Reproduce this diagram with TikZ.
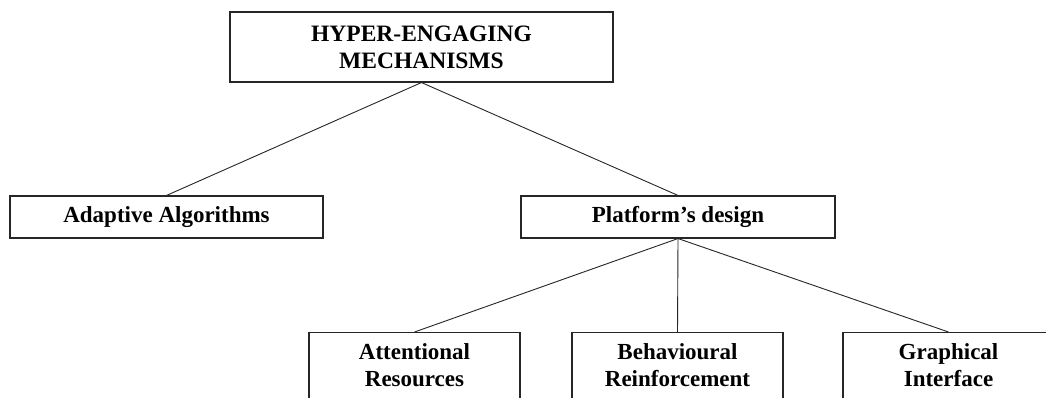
\documentclass[tikz,border=0pt]{standalone}
\usepackage{fontspec}
\setmainfont{Liberation Serif}
\begin{document}
\begin{tikzpicture}[x=1pt,y=-1pt,
  box/.style={draw=black!85, line width=1.1pt, inner sep=0pt, align=center,
    font=\bfseries\fontsize{23}{27}\selectfont},
  lowbox/.style={box, anchor=north, minimum width=211pt, inner xsep=0pt,
    inner ysep=12pt, text height=42pt, text depth=60pt},
  link/.style={draw=black!85, line width=0.9pt}]
\clip (0,0) rectangle (1046,398);
\fill[white] (0,0) rectangle (1046,398);
\node[box, minimum width=383pt, minimum height=70pt, font=\bfseries\fontsize{23.5}{27}\selectfont] (top) at (421.5,47) {HYPER-ENGAGING\\MECHANISMS};
\node[box, minimum width=313pt, minimum height=42pt] (adapt) at (166.5,217) {Adaptive Algorithms};
\node[box, minimum width=314pt, minimum height=42pt] (plat) at (678,217) {Platform’s design};
\node[lowbox] (att) at (414.5,332) {Attentional\\Resources};
\node[lowbox] (beh) at (677.5,332) {Behavioural\\Reinforcement};
\node[lowbox] (gra) at (948.5,332) {Graphical\\Interface};
\draw[link] (top.south) -- (adapt.north);
\draw[link] (top.south) -- (plat.north);
\draw[link] (plat.south) -- (att.north);
\draw[link] (plat.south) -- (beh.north);
\draw[link] (plat.south) -- (gra.north);
\end{tikzpicture}
\end{document}
